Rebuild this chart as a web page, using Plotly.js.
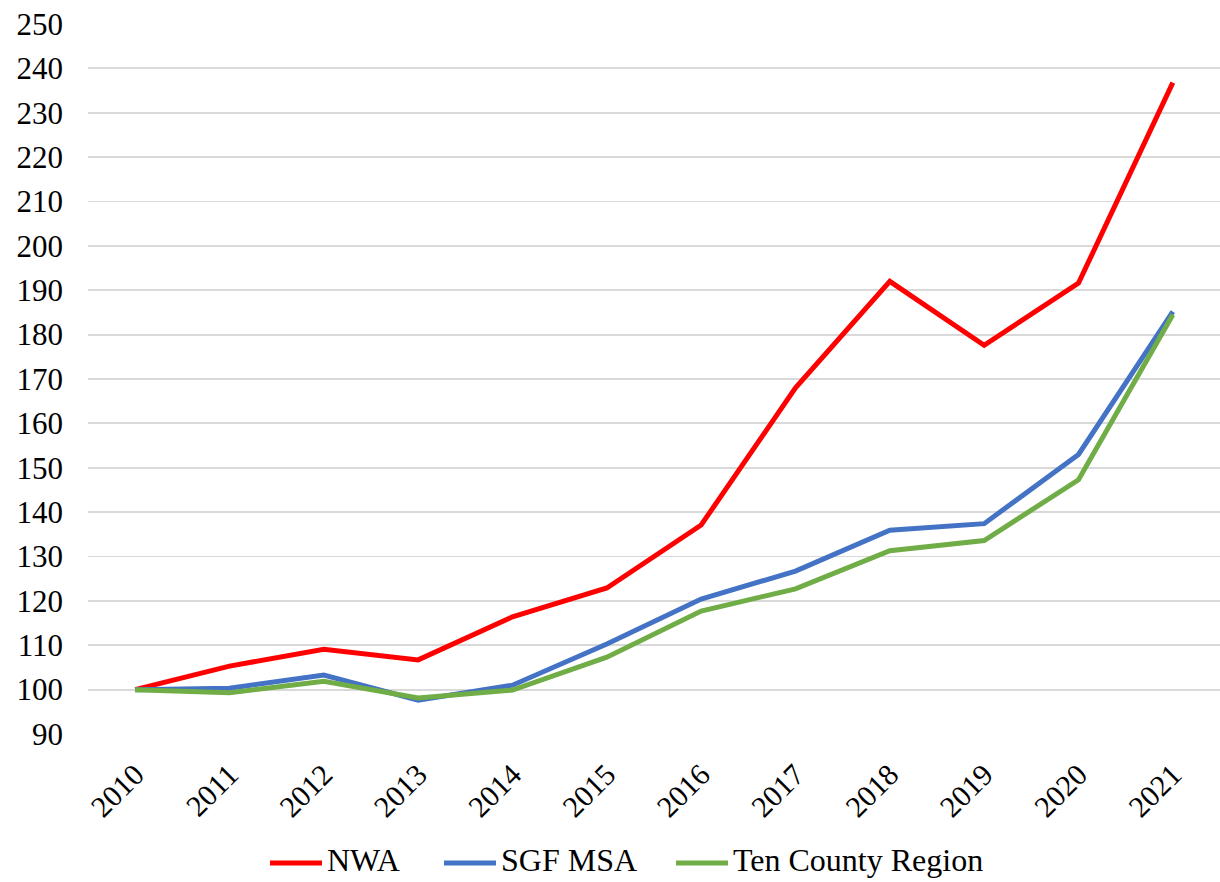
<!DOCTYPE html>
<html>
<head>
<meta charset="utf-8">
<script src="https://cdn.plot.ly/plotly-3.0.1.min.js"></script>
<style>html,body{margin:0;padding:0;background:#fff;}#chart{width:1220px;height:882px;}</style>
</head>
<body>
<div id="chart"></div>
<script>
const years = ["2010","2011","2012","2013","2014","2015","2016","2017","2018","2019","2020","2021"];
const nwa = [100, 105.3, 109.1, 106.7, 116.4, 122.9, 137.1, 168.0, 192.0, 177.6, 191.6, 236.8];
const sgfMsa = [100, 100.3, 103.3, 97.6, 101.0, 110.3, 120.4, 126.7, 135.9, 137.4, 153.0, 185.2];
const tenCounty = [100, 99.3, 101.9, 98.1, 99.9, 107.3, 117.7, 122.7, 131.3, 133.6, 147.3, 184.5];
const yTicks = [90,100,110,120,130,140,150,160,170,180,190,200,210,220,230,240,250];
const seriesNames = ['NWA', 'SGF MSA', 'Ten County Region'];
const seriesColors = ['#FF0000', '#4472C4', '#70AD47'];

const W = 1220, H = 882;
const M = {l: 88, r: 0, t: 24, b: 148};
const fam = '"Liberation Serif", "Times New Roman", Times, serif';

const seriesValues = [nwa, sgfMsa, tenCounty];
const data = seriesValues.map((y, i) => ({
  type: 'scatter', mode: 'lines', name: seriesNames[i], x: years, y: y,
  line: {color: seriesColors[i], width: 5}
}));

// custom legend (layout only): pixel positions converted to paper coords
const pw = W - M.l - M.r, ph = H - M.t - M.b;
const px = v => (v - M.l) / pw;
const py = v => (H - M.b - v) / ph;
const legendLineStart = [270, 444, 676];
const legendY = 860;
const shapes = [], annotations = [];
seriesNames.forEach((n, i) => {
  shapes.push({type: 'line', xref: 'paper', yref: 'paper',
    x0: px(legendLineStart[i]), x1: px(legendLineStart[i] + 52), y0: py(legendY + 3), y1: py(legendY + 3),
    line: {color: seriesColors[i], width: 5}});
  annotations.push({xref: 'paper', yref: 'paper', x: px(legendLineStart[i] + 56), y: py(legendY),
    xanchor: 'left', yanchor: 'middle', showarrow: false, text: n, borderpad: 0,
    font: {family: fam, size: 32, color: '#000'}});
});

const layout = {
  width: W, height: H,
  margin: M,
  paper_bgcolor: '#fff', plot_bgcolor: '#fff',
  font: {family: fam, size: 31, color: '#000'},
  showlegend: false,
  shapes: shapes,
  annotations: annotations,
  xaxis: {
    type: 'category', range: [-0.5, 11.5], tickangle: -45, automargin: false,
    showgrid: false, zeroline: false, showline: false, ticks: '',
    ticklabelstandoff: 16,
    tickfont: {family: fam, size: 30, color: '#000'}
  },
  yaxis: {
    range: [90, 250], tickvals: yTicks, ticktext: yTicks.map(String), automargin: false,
    showgrid: true, gridcolor: '#D9D9D9', gridwidth: 1.8,
    zeroline: false, showline: false, ticks: '',
    ticklabelstandoff: 24,
    tickfont: {family: fam, size: 31, color: '#000'}
  }
};
Plotly.newPlot('chart', data, layout, {displayModeBar: false, staticPlot: true});
</script>
</body>
</html>
